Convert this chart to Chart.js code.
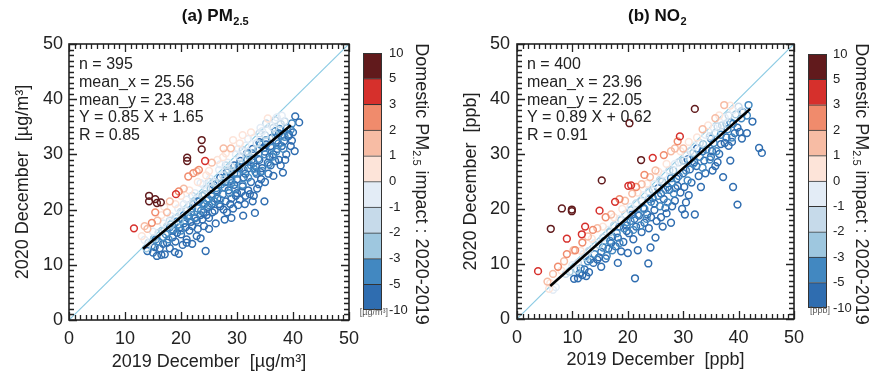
<!DOCTYPE html>
<html>
<head>
<meta charset="utf-8">
<script src="https://cdn.jsdelivr.net/npm/chart.js@4.4.1/dist/chart.umd.min.js"></script>
<style>
html,body{margin:0;padding:0;background:#fff;}
#wrap{position:relative;width:870px;height:374px;overflow:hidden;background:#fff;}
canvas{position:absolute;top:0;}
</style>
</head>
<body>
<div id="wrap">
  <canvas id="pm" width="435" height="374" style="left:0px"></canvas>
  <canvas id="pmbar" width="85" height="374" style="left:350px"></canvas>
  <canvas id="no2" width="435" height="374" style="left:435px"></canvas>
  <canvas id="no2bar" width="75" height="374" style="left:795px"></canvas>
</div>
<script>
// colour classes of the domestic impact (bottom -> top of the colour bar)
const cbTicks = ['-10','-5','-3','-2','-1','0','1','2','3','5','10'];
const levelColors = ['#2f6db0','#4288c1','#9ec7df','#c6daea','#e3ecf6','#fde4d9','#f7bca4','#f08b6c','#d6302c','#611a1c'];

const axisTicks = [0,10,20,30,40,50];
const minorStep = 1;

// ---- (a) PM2.5 ----
const pmStats = ['n = 395','mean_x = 25.56','mean_y = 23.48','Y = 0.85 X + 1.65','R = 0.85'];
const pmFitX = [13.2, 39.6];
const pmFitY = [12.9, 35.3];
const pmC10 = [[23.7,32.6],[23.7,30.9],[21.1,29.4],[21.1,28.8],[14.3,22.5],[14.3,21.5],[15.4,21.9],[16.4,21.3],[15.7,21.2]];
const pmC5 = [[11.6,16.6],[19.1,22.8],[24.3,28.8]];
const pmC3 = [[19.6,23.3],[22.2,26.6],[21.3,26.0],[15.4,19.5],[14.8,17.6],[23.2,27.2]];
const pmC2 = [[22.8,26.9],[27.6,31.1],[28.9,31.1],[14.0,16.5],[15.8,18.0],[17.5,19.5],[20.5,23.8],[18.0,21.5],[25.5,28.5],[13.5,17.0]];
const pmC1 = [[29.3,32.6],[13.0,15.2],[16.5,19.0],[19.0,21.0],[21.5,23.5],[23.0,25.0],[25.0,27.0],[26.5,29.0],[28.0,30.2],[30.5,32.0],[32.5,34.0],[17.0,20.5],[20.0,22.5],[24.5,26.2],[27.5,29.5],[31.0,33.5],[35.5,36.5]];
const pmC0 = [[13.5,14.5],[15.0,16.0],[16.8,17.5],[18.2,18.8],[19.5,20.2],[21.0,21.8],[22.5,23.0],[24.0,24.5],[25.2,25.6],[26.8,27.2],[28.3,28.5],[29.8,30.0],[31.5,31.6],[33.0,33.0],[34.5,34.2],[36.0,35.3],[37.1,36.7],[38.0,37.0],[27.0,28.2],[23.5,24.8],[20.5,21.0],[32.0,32.8],[34.2,34.8],[30.2,31.0]];
const pmCm1 = [[14.2,14.0],[16.0,15.8],[17.5,17.0],[19.0,18.5],[20.0,19.6],[21.5,20.8],[23.0,22.0],[24.5,23.8],[26.0,25.0],[27.5,26.2],[29.0,27.8],[30.5,29.5],[32.0,30.5],[33.5,32.0],[35.0,33.5],[36.5,34.8],[22.0,22.5],[25.0,25.0],[28.0,28.0],[31.0,30.8],[34.0,33.8],[18.0,18.0],[35.2,35.6],[37.8,35.5],[36.8,36.2],[38.5,36.0]];
const pmCm2 = [[13.8,13.0],[15.2,14.8],[16.6,16.2],[18.2,17.3],[19.8,18.0],[21.0,19.8],[22.2,21.0],[23.8,22.5],[25.3,23.8],[26.5,24.8],[27.8,25.5],[29.2,27.0],[30.8,28.2],[32.3,29.5],[33.8,31.0],[35.3,32.5],[36.8,33.6],[24.2,22.8],[28.5,27.2],[31.8,30.0]];
const pmCm3 = [[14.8,13.5],[16.0,14.2],[17.3,15.5],[18.5,16.4],[19.5,17.3],[20.8,18.0],[21.8,19.5],[23.0,20.2],[24.2,21.0],[25.5,22.4],[26.5,23.3],[27.8,24.0],[29.0,25.5],[30.0,26.5],[31.2,27.2],[32.5,28.0],[33.8,29.2],[35.0,30.0],[36.2,31.2],[37.4,32.0],[38.5,33.2],[22.5,18.6],[25.0,20.8],[27.0,21.8],[29.6,23.8],[32.0,25.8],[34.5,27.0],[37.0,30.5],[20.0,16.2],[17.8,14.6],[23.6,19.8],[26.0,21.5],[28.6,23.0],[31.0,24.5],[33.3,26.8],[35.7,28.2],[38.3,31.0],[39.6,34.5],[36.8,34.2],[34.2,31.8],[31.8,29.0],[29.5,26.5],[27.2,24.6],[24.8,22.0],[22.0,20.2],[19.2,17.8],[16.8,15.0],[39.8,35.6],[38.9,34.8],[37.9,33.5],
  [15.5,14.6],[18.0,16.8],[20.5,19.0],[23.3,21.5],[26.3,23.9],[28.0,25.9],[30.3,27.8],[32.8,30.2],[35.2,32.6],[37.6,34.6],[21.2,18.8],[24.6,21.6],[29.0,24.8],[33.0,27.4],[36.4,29.6]];
const pmCm5 = [[14.0,12.5],[15.0,12.2],[15.7,11.6],[16.5,11.8],[17.1,11.9],[18.9,12.3],[24.4,12.5],[21.0,14.0],[21.0,14.6],[17.5,14.0],[18.5,15.0],[19.0,14.2],[20.0,15.5],[21.5,16.2],[22.0,17.0],[23.0,16.5],[24.1,17.0],[22.5,18.4],[23.5,19.0],[25.0,18.5],[24.0,19.5],[24.8,20.5],[25.5,21.0],[26.0,19.8],[27.0,20.6],[28.2,19.5],[28.0,21.5],[29.3,20.2],[29.0,22.0],[30.5,21.8],[31.1,18.9],[30.0,23.0],[31.0,24.2],[32.0,23.5],[33.0,22.5],[33.2,19.4],[33.9,24.6],[34.9,21.5],[35.0,25.0],[32.5,25.0],[33.5,26.5],[34.5,27.5],[36.5,26.1],[38.2,26.7],[38.6,29.0],[37.5,29.0],[40.3,30.6],[36.5,30.0],[35.5,28.5],[38.0,31.5],[39.2,33.3],[39.3,33.6],[40.4,36.9],[41.1,35.8],[37.5,33.8],[37.0,32.5],[36.0,31.5],[35.0,30.5],[34.0,29.0],[33.0,28.5],[32.0,27.5],[31.5,26.5],[30.0,25.5],[29.5,24.5],[28.5,23.5],[27.5,22.8],[26.5,22.0],[30.2,20.8],[27.8,18.2],[26.2,17.5],[22.8,15.2],[20.3,13.6],[16.2,13.0],[19.8,16.8],[20.5,17.5],[25.8,24.5],[27.0,25.8],[28.2,26.8],[29.5,28.0],[30.6,28.8],[31.8,30.2],[32.8,31.0],[34.0,32.2],[35.2,31.8],[36.2,33.0],[38.8,30.0],[39.8,32.5],[36.0,28.0],[34.3,25.5],[32.8,21.5],[31.5,22.5],[29.0,18.5],[25.0,16.5],[23.5,14.8],[22.0,13.8],[19.6,12.0],
  [15.3,13.2],[16.8,13.8],[18.0,13.0],[19.3,15.8],[20.8,16.8],[21.8,17.8],[22.8,18.0],[23.8,18.2],[24.6,19.0],[25.6,19.5],[26.8,21.0],[27.6,20.0],[28.8,21.0],[29.8,22.5],[30.8,23.2],[31.4,21.0],[32.3,22.8],[33.6,23.8],[34.2,26.8],[35.6,26.5],[36.8,28.8],[37.8,28.0],[38.4,32.4],[39.6,31.5],[40.0,34.0],[26.3,23.5],[28.9,25.2],[31.2,25.8],[33.4,27.8],[35.8,29.6],[37.2,31.0],[24.0,21.2],[21.4,18.8],[18.6,16.2],[30.4,27.5],[32.6,29.0],[34.8,31.2],[27.9,25.0],[25.4,22.8],[23.0,21.5]];

// ---- (b) NO2 ----
const no2Stats = ['n = 400','mean_x = 23.96','mean_y = 22.05','Y = 0.89 X + 0.62','R = 0.91'];
const no2FitX = [6.0, 42.1];
const no2FitY = [6.0, 38.2];
const no2C10 = [[32.1,38.2],[20.3,35.6],[22.4,28.9],[15.3,25.2],[8.1,20.1],[9.9,19.9],[9.9,19.6],[6.1,16.4]];
const no2C5 = [[29.4,33.2],[24.5,29.3],[20.1,24.2],[14.9,19.7],[17.7,21.3],[12.3,16.8],[11.7,15.4],[9.0,14.6],[3.8,8.7],[20.6,24.3]];
const no2C3 = [[26.5,29.8],[29.0,32.3],[23.0,26.2],[18.5,21.8],[13.7,16.2],[7.4,9.5],[9.0,11.8],[10.5,12.5],[16.0,18.5],[21.5,24.0],[11.8,13.9]];
const no2C2 = [[37.4,38.9],[33.5,34.5],[30.0,31.0],[27.8,30.5],[25.0,27.0],[22.5,24.5],[19.5,21.5],[17.0,19.0],[14.5,16.5],[12.8,15.0],[10.2,12.5],[8.5,10.5],[6.5,8.2],[5.5,6.8],[24.0,25.8],[20.8,22.8],[28.5,31.0],[35.8,36.5]];
const no2C1 = [[38.5,38.8],[36.5,37.0],[34.5,35.2],[32.5,33.0],[31.0,32.2],[29.5,30.5],[27.0,28.2],[25.5,26.8],[23.5,24.6],[21.8,23.0],[19.0,20.0],[17.5,18.5],[15.5,16.8],[13.5,14.6],[11.5,12.4],[8.0,8.8],[6.0,6.5],[5.8,5.5]];
const no2C0 = [[39.0,38.0],[37.5,36.6],[35.5,34.8],[34.0,33.5],[32.0,31.5],[30.5,30.0],[28.5,28.2],[26.5,26.3],[24.8,24.5],[22.8,22.5],[20.5,20.4],[18.5,18.2],[16.5,16.2],[14.0,13.8],[12.0,11.8],[10.0,9.8],[7.0,5.8],[6.5,5.3]];
const no2Cm1 = [[40.0,38.6],[38.2,37.0],[36.2,35.0],[34.8,33.2],[33.0,32.0],[31.3,30.5],[29.2,28.5],[27.5,27.0],[25.8,25.3],[23.8,23.2],[21.5,21.0],[19.5,19.0],[17.5,17.0],[15.5,14.8],[13.0,12.4],[11.0,10.2],[8.8,8.2],[40.5,37.8],[37.0,35.2]];
const no2Cm2 = [[39.5,37.2],[37.8,35.5],[35.8,33.8],[33.6,31.8],[31.8,30.2],[30.0,28.8],[28.2,27.0],[26.2,25.0],[24.5,23.5],[22.5,21.5],[20.5,19.8],[18.8,18.0],[16.8,15.8],[14.8,13.5],[12.5,11.2],[10.8,9.0],[9.5,8.6]];
const no2Cm3 = [[41.8,38.9],[41.5,37.0],[40.5,36.5],[39.0,35.5],[38.0,34.5],[36.8,33.5],[35.5,32.0],[34.2,30.8],[33.0,29.5],[31.8,28.2],[30.5,27.0],[29.2,26.0],[28.0,24.8],[26.8,23.5],[25.5,22.4],[24.2,21.3],[23.0,20.0],[21.8,19.0],[20.5,17.8],[19.3,16.5],[18.0,15.6],[16.8,14.2],[15.5,13.0],[14.0,11.8],[12.8,10.5],[11.5,9.2],[36.0,30.5],[33.5,27.5],[30.8,25.2],[28.3,22.8],[25.8,20.5],[23.4,18.2],[21.0,16.2],[18.5,13.8],[16.2,11.5],[38.8,33.0],[34.8,29.0],[27.2,21.2],[22.3,17.0],[17.2,12.5],
  [15.8,14.2],[19.8,17.6],[23.8,21.8],[27.8,25.6],[31.2,29.0],[35.0,32.8],[38.5,35.8],[40.8,37.6]];
const no2Cm5 = [[44.2,30.2],[43.7,31.1],[39.8,20.8],[39.0,24.0],[37.2,25.8],[32.1,19.0],[30.3,19.0],[23.7,10.1],[24.1,13.0],[21.3,7.4],[18.2,10.2],[15.2,9.5],[10.3,7.3],[11.0,7.4],[11.3,8.3],[42.5,35.9],[41.5,33.8],[40.2,34.0],[39.3,33.8],[38.2,31.5],[37.5,32.0],[36.5,30.0],[35.8,27.8],[35.0,29.5],[34.0,26.5],[33.5,30.5],[32.8,26.0],[32.0,28.5],[31.5,24.8],[31.0,22.5],[30.5,21.2],[30.0,26.5],[29.5,23.0],[29.0,24.2],[28.5,21.5],[28.0,20.5],[27.5,23.5],[27.0,19.2],[26.5,21.8],[26.0,18.5],[25.5,23.8],[25.2,17.8],[24.8,19.8],[24.5,22.0],[23.8,16.5],[23.5,19.0],[23.0,17.5],[22.5,15.8],[22.0,18.8],[21.5,16.8],[21.0,14.5],[20.8,19.0],[20.2,15.6],[19.8,17.0],[19.2,14.0],[18.8,12.3],[18.5,16.8],[17.8,13.2],[17.2,15.0],[16.5,12.8],[16.0,11.0],[15.2,12.2],[14.5,10.8],[13.8,10.2],[13.0,8.5],[12.5,7.8],[12.2,9.0],[21.8,12.5],[26.3,16.8],[33.2,24.0],[36.2,28.5],[38.5,28.8],[35.3,27.0],[29.8,20.0],[27.8,17.5],[25.0,14.8],[20.0,12.0],[30.8,29.0],[32.5,31.0],
  [24.8,21.0],[26.0,22.8],[27.2,24.0],[28.8,25.5],[30.2,24.0],[31.2,27.2],[32.4,27.8],[33.8,28.8],[35.2,30.5],[36.8,31.8],[37.8,33.0],[38.8,32.2],[40.6,32.8],[39.8,34.8],[22.8,20.2],[21.2,18.2],[19.8,16.0],[18.2,14.8],[17.0,13.8],[14.8,11.2],[13.2,10.8],[11.8,8.0],[28.6,23.8],[26.8,20.2],[24.2,18.5]];

const diagX = [0, 50];
const diagY = [0, 50];

const FONT = "'Liberation Sans', Arial, Helvetica, sans-serif";
Chart.defaults.font.family = FONT;
Chart.defaults.color = '#222';

function toPts(arr){ return arr.map(p=>({x:p[0], y:p[1]})); }
function linePts(xs, ys){ return xs.map((x,i)=>({x, y:ys[i]})); }

// frame, inward ticks, stats text and panel title
const panelDeco = {
  id:'panelDeco',
  beforeDatasetsDraw(chart, args, o){
    const ctx = chart.ctx, a = chart.chartArea;
    ctx.save();
    ctx.font = '16px ' + FONT;
    ctx.fillStyle = '#222';
    ctx.textAlign = 'left';
    ctx.textBaseline = 'middle';
    o.stats.forEach((s,i)=> ctx.fillText(s, a.left + o.statsDx, 65 + i*17.6));
    ctx.restore();
  },
  afterDraw(chart, args, o){
    const ctx = chart.ctx, a = chart.chartArea;
    const xs = chart.scales.x, ys = chart.scales.y;
    ctx.save();
    ctx.strokeStyle = '#222';
    ctx.lineWidth = 1.3;
    for (let v = xs.min; v <= xs.max; v += minorStep){
      const len = axisTicks.includes(v) ? 8 : 5;
      const px = Math.round(xs.getPixelForValue(v)) + 0.5;
      ctx.beginPath();
      ctx.moveTo(px, a.bottom); ctx.lineTo(px, a.bottom - len);
      ctx.moveTo(px, a.top); ctx.lineTo(px, a.top + len);
      ctx.stroke();
    }
    for (let v = ys.min; v <= ys.max; v += minorStep){
      const len = axisTicks.includes(v) ? 8 : 5;
      const py = Math.round(ys.getPixelForValue(v)) + 0.5;
      ctx.beginPath();
      ctx.moveTo(a.left, py); ctx.lineTo(a.left + len, py);
      ctx.moveTo(a.right, py); ctx.lineTo(a.right - len, py);
      ctx.stroke();
    }
    ctx.lineWidth = 1.6;
    ctx.strokeRect(a.left, a.top, a.right - a.left, a.bottom - a.top);

    // panel title with subscript
    ctx.fillStyle = '#111';
    ctx.textBaseline = 'alphabetic';
    ctx.textAlign = 'left';
    const big = 'bold 17px ' + FONT, small = 'bold 11px ' + FONT;
    ctx.font = big; const w1 = ctx.measureText(o.title).width;
    ctx.font = small; const w2 = ctx.measureText(o.sub).width;
    const x0 = o.titleX - (w1 + w2) / 2;
    ctx.font = big; ctx.fillText(o.title, x0, 21);
    ctx.font = small; ctx.fillText(o.sub, x0 + w1 + 0.5, 25);
    ctx.restore();
  }
};

function makePanel(id, groups, fitX, fitY, cfg){
  const sets = [];
  sets.push({type:'line', data:linePts(fitX, fitY), borderColor:'#000', borderWidth:2.6, pointRadius:0, fill:false});
  groups.forEach((g,i)=>{
    sets.push({type:'scatter', data:toPts(g), borderColor:levelColors[9 - i], backgroundColor:'rgba(0,0,0,0)',
      pointRadius:3.4, pointBorderWidth:1.5, pointHoverRadius:3.4});
  });
  sets.push({type:'line', data:linePts(diagX, diagY), borderColor:'#8ccbe4', borderWidth:1.2, pointRadius:0, fill:false});

  const tickFont = {size:18, family:FONT};
  new Chart(document.getElementById(id), {
    type:'scatter',
    data:{datasets:sets},
    options:{
      responsive:false, animation:false, devicePixelRatio:1,
      layout:{padding:{left:0, top:cfg.top, right:cfg.right, bottom:0}},
      plugins:{legend:{display:false}, tooltip:{enabled:false},
        panelDeco:{stats:cfg.stats, statsDx:cfg.statsDx, title:cfg.title, sub:cfg.sub, titleX:cfg.titleX}},
      scales:{
        x:{type:'linear', min:0, max:50,
          afterBuildTicks:s=>{ s.ticks = axisTicks.map(v=>({value:v})); },
          ticks:{maxRotation:0, padding:cfg.xPad, font:tickFont, color:'#222'},
          grid:{display:false, drawTicks:false}, border:{display:false},
          title:{display:true, text:cfg.xTitle, font:{size:18, family:FONT}, color:'#222', padding:{top:0, bottom:cfg.xTitlePad}},
          afterFit:s=>{ s.height = cfg.xH; }},
        y:{type:'linear', min:0, max:50,
          afterBuildTicks:s=>{ s.ticks = axisTicks.map(v=>({value:v})); },
          ticks:{padding:cfg.yPad, font:tickFont, color:'#222'},
          grid:{display:false, drawTicks:false}, border:{display:false},
          title:{display:true, text:cfg.yTitle, font:{size:18, family:FONT}, color:'#222', padding:{top:cfg.yTitlePad, bottom:0}},
          afterFit:s=>{ s.width = cfg.yW; }}
      }
    },
    plugins:[panelDeco]
  });
}

// colour bar frame, unit and rotated title
const cbDeco = {
  id:'cbDeco',
  afterDraw(chart, args, o){
    const ctx = chart.ctx, a = chart.chartArea;
    ctx.save();
    ctx.strokeStyle = '#333';
    ctx.lineWidth = 1;
    ctx.strokeRect(a.left + 0.5, a.top + 0.5, a.right - a.left - 1, a.bottom - a.top - 1);
    ctx.font = '9px ' + FONT;
    ctx.fillStyle = '#555';
    ctx.textAlign = 'right';
    ctx.textBaseline = 'middle';
    ctx.fillText(o.unit, o.unitX, a.bottom + 3);

    ctx.translate(o.titleX, o.titleY);
    ctx.rotate(Math.PI / 2);
    ctx.fillStyle = '#222';
    ctx.textAlign = 'left';
    ctx.textBaseline = 'middle';
    const big = '18px ' + FONT, small = '11px ' + FONT;
    const p1 = 'Domestic PM', p2 = '2.5', p3 = ' impact : 2020-2019';
    ctx.font = big; const w1 = ctx.measureText(p1).width, w3 = ctx.measureText(p3).width;
    ctx.font = small; const w2 = ctx.measureText(p2).width;
    let x = -(w1 + w2 + w3) / 2;
    ctx.font = big; ctx.fillText(p1, x, 0); x += w1;
    ctx.font = small; ctx.fillText(p2, x, 5); x += w2;
    ctx.font = big; ctx.fillText(p3, x, 0);
    ctx.restore();
  }
};

function makeColorbar(id, cfg){
  new Chart(document.getElementById(id), {
    type:'bar',
    data:{labels:[''], datasets:levelColors.map(c=>({data:[1], backgroundColor:c, borderColor:'#333',
      borderWidth:{top:1, left:0, right:0, bottom:0}, borderSkipped:false, barPercentage:1, categoryPercentage:1}))},
    options:{
      responsive:false, animation:false, devicePixelRatio:1,
      layout:{padding:{left:cfg.left, top:cfg.top, bottom:cfg.bottom, right:0}},
      plugins:{legend:{display:false}, tooltip:{enabled:false},
        cbDeco:{unit:cfg.unit, unitX:cfg.unitX, titleX:cfg.titleX, titleY:cfg.titleY}},
      scales:{
        x:{stacked:true, display:false},
        y:{stacked:true, position:'right', min:0, max:10,
          ticks:{stepSize:1, maxTicksLimit:20, autoSkip:false, padding:cfg.pad, color:'#222', font:{size:13, family:FONT},
            callback:v=> cbTicks[v]},
          grid:{display:false, drawTicks:false}, border:{display:false},
          afterFit:s=>{ s.width = cfg.axisW; }}
      }
    },
    plugins:[cbDeco]
  });
}

makePanel('pm', [pmC10, pmC5, pmC3, pmC2, pmC1, pmC0, pmCm1, pmCm2, pmCm3, pmCm5], pmFitX, pmFitY, {
  top:44, right:86, xH:54, yW:69, xPad:8, yPad:6, xTitlePad:1, yTitlePad:12, statsDx:10,
  xTitle:'2019 December  [µg/m³]', yTitle:'2020 December  [µg/m³]', stats:pmStats,
  title:'(a) PM', sub:'2.5', titleX:215
});
makePanel('no2', [no2C10, no2C5, no2C3, no2C2, no2C1, no2C0, no2Cm1, no2Cm2, no2Cm3, no2Cm5], no2FitX, no2FitY, {
  top:44, right:76, xH:55, yW:82, xPad:8, yPad:7, xTitlePad:3, yTitlePad:25, statsDx:10,
  xTitle:'2019 December  [ppb]', yTitle:'2020 December  [ppb]', stats:no2Stats,
  title:'(b) NO', sub:'2', titleX:222
});
makeColorbar('pmbar', {left:13, top:53, bottom:64, axisW:53, pad:7, unit:'[µg/m³]', unitX:38, titleX:71, titleY:184});
makeColorbar('no2bar', {left:13, top:54, bottom:66, axisW:43, pad:6, unit:'[ppb]', unitX:35, titleX:66, titleY:184});
</script>
</body>
</html>
